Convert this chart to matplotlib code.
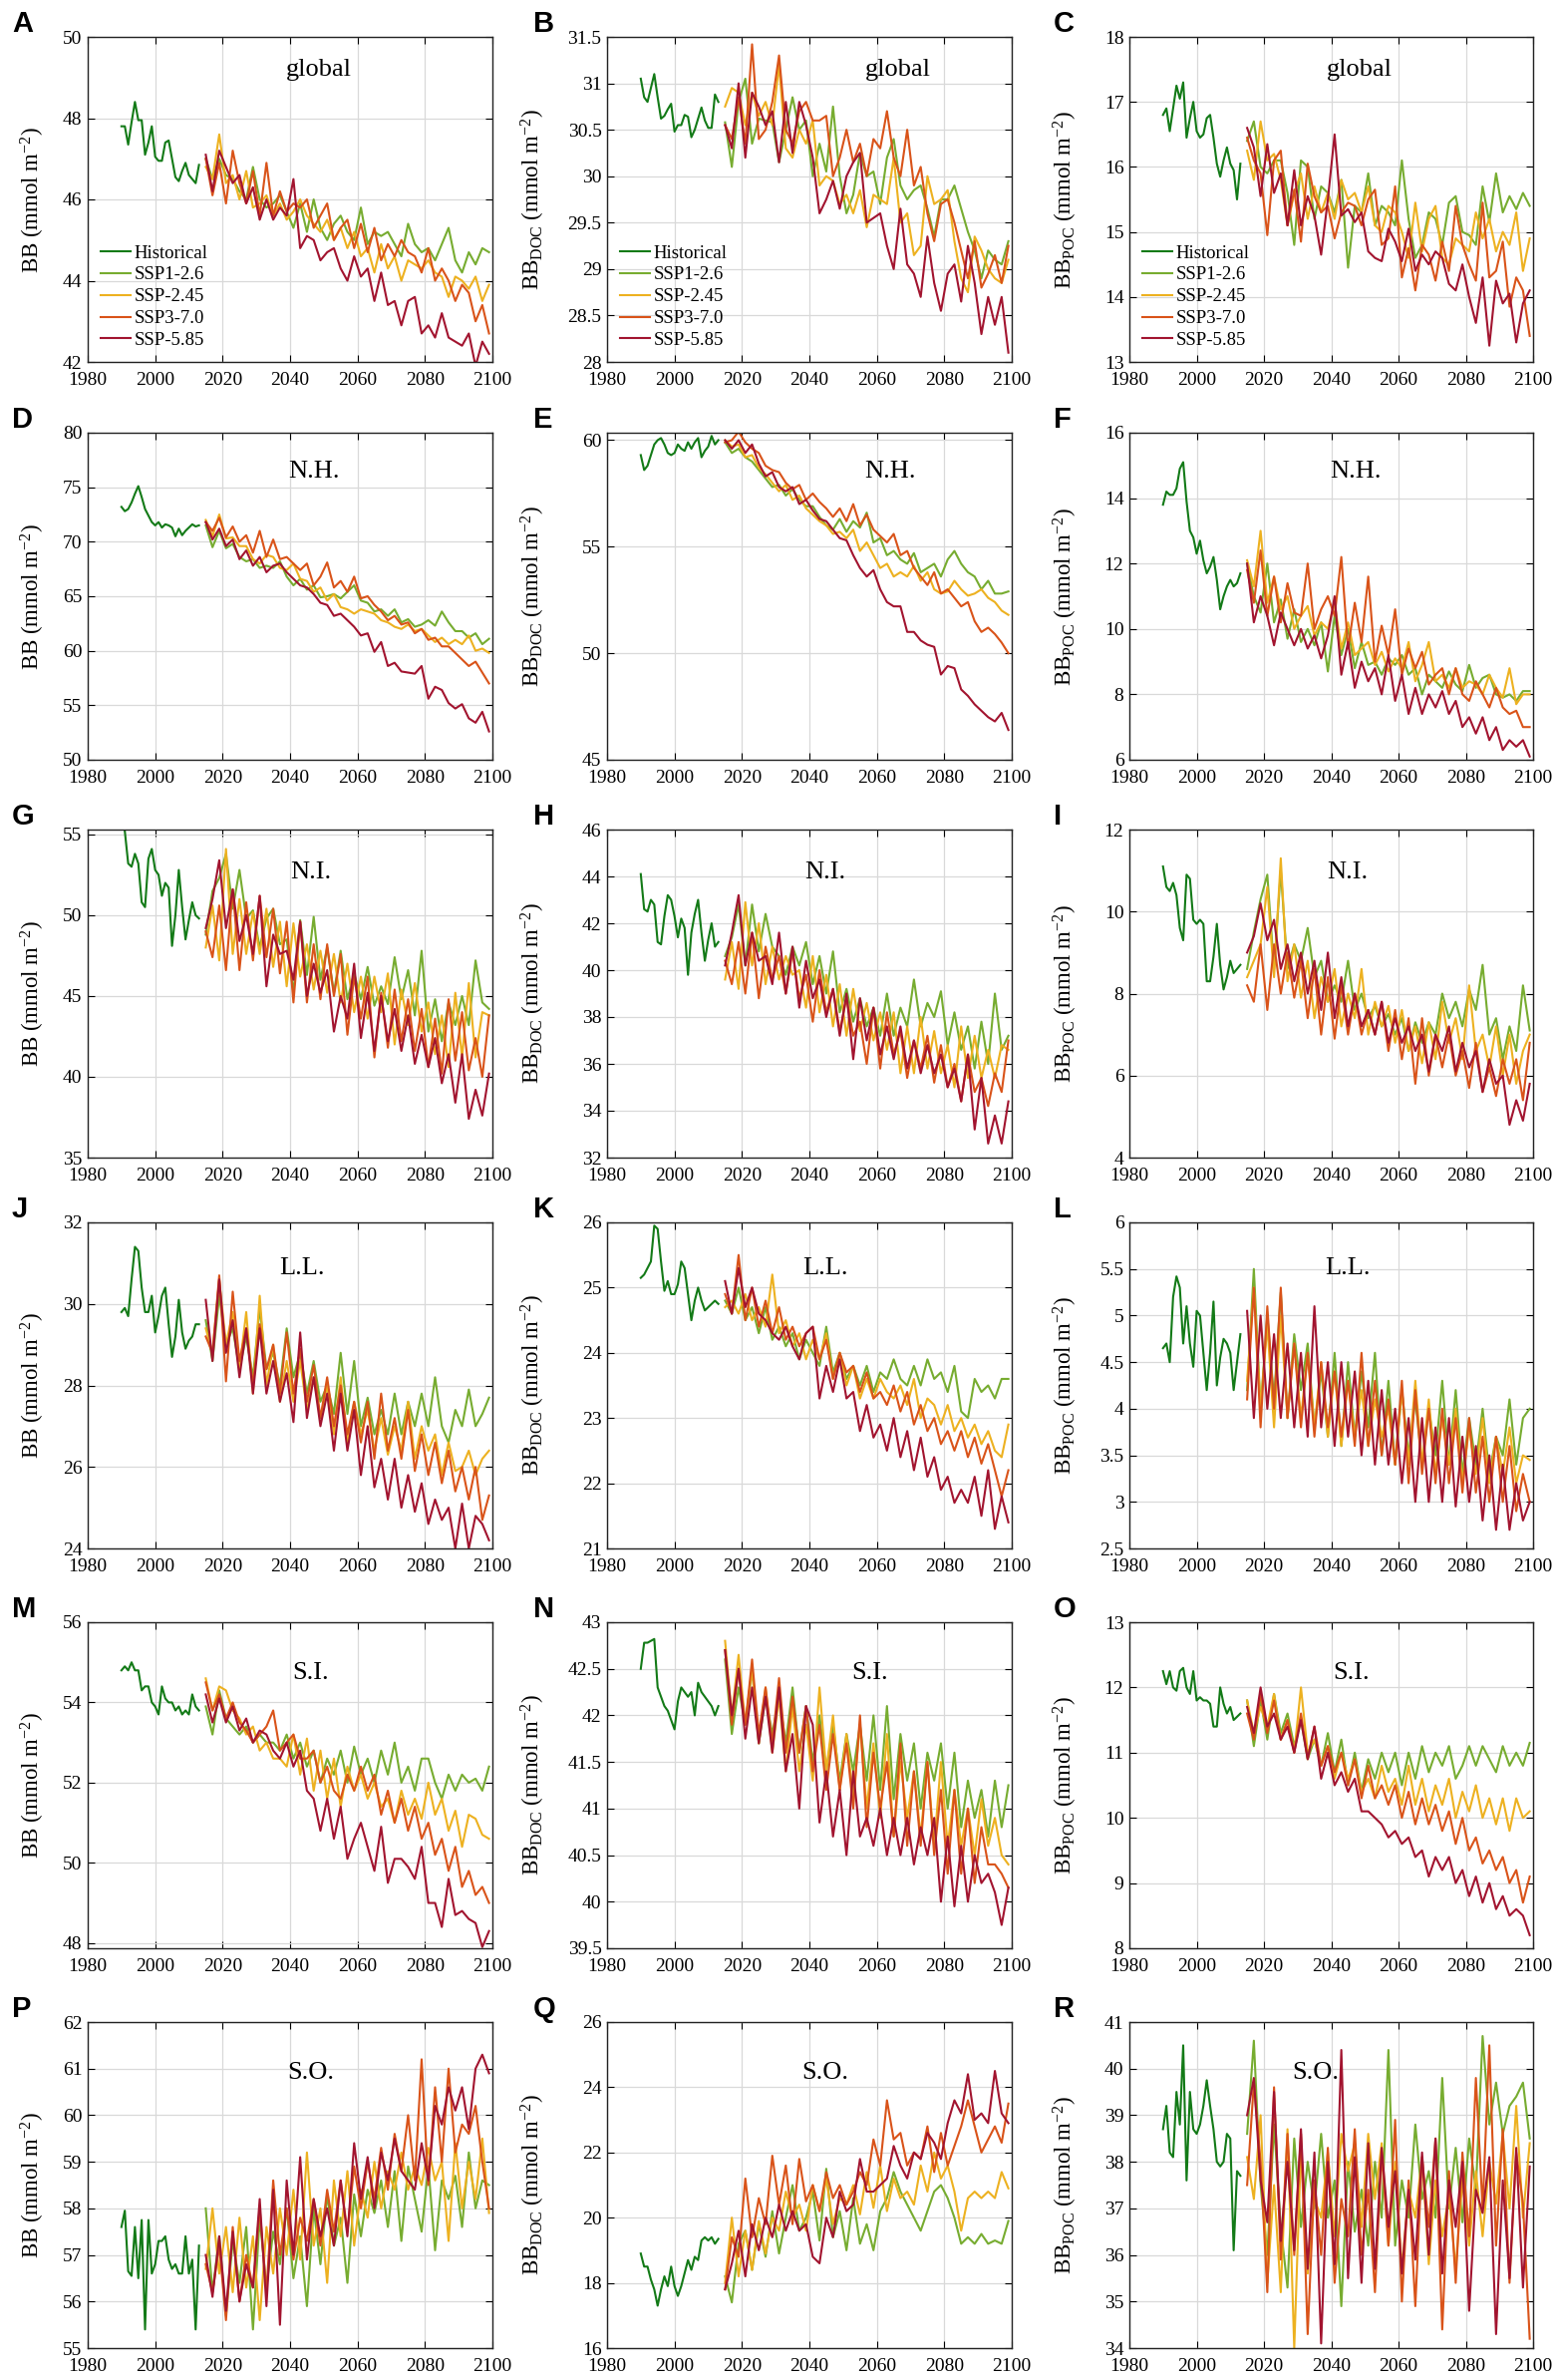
import matplotlib
matplotlib.use('Agg')
import matplotlib.pyplot as plt
import numpy as np
from matplotlib.ticker import FuncFormatter

plt.rcParams['font.family'] = ['Liberation Serif', 'DejaVu Serif']
plt.rcParams['mathtext.fontset'] = 'custom'
plt.rcParams['mathtext.rm'] = 'Liberation Serif'
plt.rcParams['mathtext.it'] = 'Liberation Serif:italic'

# ---------------- data ----------------
series_names = ['Historical', 'SSP1-2.6', 'SSP-2.45', 'SSP3-7.0', 'SSP-5.85']
series_colors = ['#137a17', '#77ac30', '#edb120', '#d95319', '#a2142f']
hist_start, hist_end = 1990, 2013
ssp_start, ssp_end = 2015, 2099
xticks = [1980, 2000, 2020, 2040, 2060, 2080, 2100]
panel_letters = list('ABCDEFGHIJKLMNOPQR')
regions = ['global', 'N.H.', 'N.I.', 'L.L.', 'S.I.', 'S.O.']

# A: BB global
A_hist = [47.8,47.8,47.35,47.9,48.4,47.95,47.95,47.1,47.4,47.8,47.05,46.95,46.95,47.4,47.45,47.0,46.55,46.45,46.7,46.9,46.6,46.5,46.4,46.85]
A_126 = [47.0,46.5,47.0,46.6,46.5,46.2,46.0,46.8,46.0,45.8,45.9,46.1,45.7,45.3,45.9,45.2,46.0,45.3,45.0,45.4,45.6,45.2,45.0,45.8,44.9,45.2,45.1,45.2,44.9,44.6,45.4,44.9,44.7,44.8,44.5,44.9,45.3,44.5,44.2,44.7,44.4,44.8,44.7]
A_245 = [46.8,46.5,47.6,46.4,46.6,46.0,46.7,45.8,45.9,46.1,45.6,45.9,45.5,45.7,46.0,45.6,45.4,45.2,45.5,45.0,45.3,44.8,45.2,44.6,44.8,44.2,44.9,44.3,44.6,44.0,44.5,44.4,44.3,44.5,44.2,44.1,43.6,44.1,44.0,43.8,44.1,43.5,43.9]
A_370 = [47.0,46.1,46.9,45.9,47.2,46.4,45.9,46.7,45.6,46.9,45.6,46.2,45.7,45.9,45.8,46.0,45.3,45.6,45.9,45.0,45.3,45.5,44.8,45.4,44.7,45.3,44.5,44.9,44.6,45.0,44.7,44.6,44.2,44.8,44.0,44.3,44.0,43.5,43.9,43.7,43.0,43.4,42.7]
A_585 = [47.1,46.2,47.2,46.8,46.4,46.6,45.9,46.3,45.5,46.0,45.5,45.8,45.6,46.5,44.8,45.1,45.0,44.5,44.7,44.8,44.3,44.0,44.6,44.1,44.3,43.5,44.2,43.4,43.5,42.9,43.5,43.6,42.7,42.9,42.6,43.2,42.6,42.5,42.4,42.7,41.9,42.5,42.2]

# B: BB_DOC global
B_hist = [31.05,30.85,30.8,30.95,31.1,30.85,30.62,30.65,30.72,30.78,30.48,30.55,30.55,30.66,30.64,30.42,30.5,30.62,30.74,30.6,30.52,30.52,30.88,30.8]
B_126 = [30.58,30.1,30.8,31.05,30.35,30.62,30.6,30.58,30.15,30.5,30.85,30.5,30.6,30.0,30.35,30.05,30.75,30.0,29.6,29.8,30.25,30.0,30.05,29.7,30.2,30.4,29.9,29.75,29.85,29.9,29.65,29.35,29.75,29.75,29.9,29.65,29.4,29.2,28.9,29.2,29.1,29.05,29.3]
B_245 = [30.75,30.95,30.9,30.55,30.9,30.65,30.8,30.55,31.2,30.3,30.2,30.5,30.35,30.6,29.9,30.0,29.95,29.7,29.8,29.6,29.85,29.45,29.8,29.75,29.7,30.2,29.5,29.6,29.15,29.25,30.0,29.7,29.75,29.85,29.3,28.9,28.75,29.35,29.2,29.0,28.9,28.85,29.1]
B_370 = [30.55,30.4,30.85,30.35,31.42,30.4,30.5,30.8,31.3,30.5,30.35,30.7,30.8,30.6,30.6,30.65,30.0,30.2,30.5,30.15,30.35,30.0,30.4,30.3,30.7,30.2,30.0,30.5,29.9,30.1,29.6,29.3,29.7,29.75,29.5,29.2,28.9,29.3,28.8,28.95,29.15,28.85,29.25]
B_585 = [30.55,30.3,31.0,30.2,30.9,30.75,30.55,30.7,30.15,30.8,30.25,30.8,30.55,30.2,29.6,29.75,29.95,29.65,30.0,30.15,30.25,29.5,29.55,29.6,29.25,29.0,29.65,29.05,28.95,28.7,29.35,28.85,28.55,28.95,29.05,28.65,29.25,28.85,28.3,28.7,28.4,28.7,28.1]

# C: BB_POC global
C_hist = [16.8,16.9,16.55,16.9,17.25,17.05,17.3,16.45,16.75,17.0,16.55,16.45,16.5,16.75,16.8,16.45,16.05,15.85,16.1,16.3,16.05,15.95,15.5,16.05]
C_126 = [16.4,16.7,16.0,15.9,16.1,16.1,15.6,14.8,16.1,16.0,15.2,15.7,15.6,15.3,15.8,14.45,15.4,15.3,15.9,15.1,15.4,15.3,15.1,16.1,15.2,14.6,14.8,15.3,15.2,14.8,15.45,15.55,15.0,14.95,14.8,15.7,15.15,15.9,15.3,15.55,15.35,15.6,15.4]
C_245 = [16.25,15.8,16.7,16.1,16.2,15.8,15.1,15.6,15.9,15.2,15.7,15.3,15.6,15.2,15.8,15.5,15.6,15.3,15.7,15.1,15.0,15.4,15.3,15.0,14.6,15.45,14.7,15.2,15.4,14.6,14.5,14.9,14.8,14.7,15.3,14.9,15.2,14.7,15.0,14.8,15.3,14.4,14.9]
C_370 = [16.45,16.1,15.9,14.95,16.1,16.25,15.1,15.65,14.85,16.05,15.55,15.3,15.4,14.9,15.3,15.45,15.4,15.1,15.5,15.65,14.8,14.9,15.7,14.3,14.75,14.1,14.8,14.65,14.25,14.85,14.4,15.4,14.8,14.5,14.25,15.45,14.3,14.4,14.85,13.85,14.3,14.1,13.4]
C_585 = [16.6,16.3,15.55,16.35,15.6,15.9,15.1,15.95,15.1,15.55,15.25,14.65,15.5,16.5,15.25,15.35,15.15,15.3,14.7,14.6,14.55,15.05,14.85,14.55,15.05,14.4,14.65,14.5,14.7,14.6,14.2,14.1,14.5,14.0,13.6,14.3,13.25,14.25,13.9,14.05,13.3,13.9,14.1]

# D: BB N.H.
D_hist = [73.2,72.8,73.0,73.6,74.4,75.1,74.1,73.0,72.4,71.8,71.5,71.8,71.3,71.6,71.5,71.3,70.5,71.2,70.6,71.0,71.3,71.6,71.4,71.5]
D_126 = [71.5,69.5,71.0,69.4,69.8,68.6,68.2,68.4,67.6,67.8,67.6,68.2,66.8,66.0,66.6,65.6,66.0,64.9,65.0,65.2,64.8,65.4,66.0,64.6,64.4,63.6,63.8,63.2,63.8,62.6,62.9,62.2,62.4,62.8,62.3,63.6,62.6,61.8,61.8,61.2,61.6,60.6,61.1]
D_245 = [72.0,70.5,72.5,70.3,70.4,69.6,69.6,68.4,68.0,68.8,68.6,67.6,67.4,68.0,66.6,66.4,65.4,65.8,64.6,65.2,64.0,63.8,63.4,63.8,63.6,63.4,62.8,62.6,62.2,62.0,62.4,61.8,62.0,61.4,60.8,61.2,60.6,61.0,60.6,61.4,60.0,60.2,59.8]
D_370 = [71.8,71.0,72.2,70.4,71.4,70.0,70.6,69.0,71.0,68.6,70.2,68.4,68.6,68.0,67.4,68.0,66.0,66.8,68.1,65.8,66.4,65.4,66.8,64.8,65.0,64.2,63.6,62.8,63.2,62.4,62.6,61.6,62.0,61.0,61.2,60.4,60.4,59.8,59.2,58.6,59.0,58.0,57.0]
D_585 = [71.8,70.2,71.2,69.6,70.2,68.4,69.2,67.8,68.6,67.2,67.8,68.0,67.2,66.6,66.0,65.8,65.2,64.4,64.2,63.2,63.4,62.8,62.2,61.4,61.6,59.9,60.8,58.6,58.9,58.1,58.0,57.9,58.6,55.6,56.7,56.4,55.2,54.7,55.1,53.8,53.4,54.4,52.6]

# E: BB_DOC N.H.
E_hist = [59.3,58.6,58.8,59.3,59.8,60.0,60.1,59.8,59.4,59.3,59.4,59.8,59.6,59.5,59.9,59.6,59.9,60.1,59.2,59.5,59.7,60.2,59.8,60.0]
E_126 = [59.9,59.4,59.6,59.2,59.0,58.6,58.2,57.8,57.9,57.4,57.7,57.2,56.9,56.9,56.4,56.0,55.8,56.3,55.7,56.2,55.9,56.6,55.2,55.4,54.6,54.8,54.4,54.2,54.7,53.8,54.0,54.2,53.6,54.4,54.8,54.2,53.8,53.6,53.0,53.4,52.8,52.8,52.9]
E_245 = [60.0,59.7,59.8,59.2,59.3,58.7,58.4,58.0,57.6,57.9,57.2,57.4,56.8,56.5,56.2,56.0,55.6,55.7,55.4,55.8,54.8,55.2,54.6,54.0,54.2,53.6,53.8,53.6,54.1,53.4,53.8,53.0,52.8,52.9,53.4,53.0,52.7,52.8,53.0,52.6,52.4,52.0,51.8]
E_370 = [59.9,60.0,60.4,59.9,59.6,59.4,58.8,58.6,58.5,58.0,57.7,57.9,57.2,57.5,57.1,56.8,56.4,56.8,56.2,57.0,56.0,56.5,55.8,55.5,55.2,55.6,54.6,54.8,54.0,53.6,53.2,53.8,52.8,53.0,52.6,52.2,52.4,51.5,51.0,51.2,50.9,50.5,50.0]
E_585 = [60.0,59.6,60.0,59.4,59.8,58.9,58.3,58.5,57.8,57.6,57.8,57.0,57.2,56.7,56.3,56.2,55.8,55.4,55.3,54.6,54.0,53.6,53.9,53.0,52.4,52.2,52.2,51.0,51.0,50.6,50.4,50.3,49.0,49.4,49.3,48.3,48.0,47.6,47.3,47.0,46.8,47.2,46.4]

# F: BB_POC N.H.
F_hist = [13.8,14.2,14.1,14.1,14.3,14.9,15.1,13.9,13.0,12.8,12.3,12.7,12.1,11.7,11.9,12.2,11.5,10.6,11.0,11.3,11.5,11.3,11.4,11.7]
F_126 = [12.0,11.0,10.5,12.0,10.2,10.9,9.7,10.6,9.6,10.0,9.5,10.2,8.7,10.4,9.2,10.0,8.8,9.6,8.9,9.0,8.6,9.1,8.9,9.2,8.6,8.8,8.0,8.6,8.4,8.2,8.7,8.3,8.1,8.9,8.2,8.5,8.6,8.0,7.9,8.0,7.8,8.1,8.1]
F_245 = [12.1,11.3,13.0,10.8,11.6,10.6,11.0,10.0,10.4,10.7,9.8,10.2,10.0,10.8,9.4,10.2,9.2,9.4,9.6,8.9,9.3,8.7,9.1,8.8,9.6,8.4,8.9,9.6,8.4,8.6,8.2,8.8,8.2,8.4,8.3,8.0,8.6,8.2,7.9,8.8,7.7,8.0,8.0]
F_370 = [11.8,10.8,12.4,10.4,11.6,10.2,11.4,10.5,10.4,12.0,10.0,10.6,11.0,10.4,12.2,9.4,10.8,9.6,11.6,9.0,10.1,9.2,10.6,8.6,9.4,8.8,9.3,8.3,8.6,8.8,8.0,8.8,8.0,7.8,8.4,8.0,7.6,8.2,7.6,7.4,7.5,7.0,7.0]
F_585 = [12.0,10.2,11.0,10.4,9.5,10.5,10.0,9.5,10.0,9.4,9.8,9.1,9.8,11.0,8.6,9.6,8.2,9.0,8.4,8.8,8.0,9.2,7.8,8.6,7.4,8.2,7.4,8.0,7.6,8.1,7.4,7.8,7.0,7.3,6.8,7.3,6.6,7.0,6.3,6.6,6.4,6.6,6.1]

# G: BB N.I.
G_hist = [56.0,55.2,53.2,53.0,53.8,53.2,50.8,50.5,53.5,54.1,52.8,52.5,51.2,52.0,51.7,48.1,50.0,52.8,50.5,48.5,49.7,50.8,50.0,49.8]
G_126 = [48.8,51.5,52.3,53.8,50.4,52.8,49.8,50.3,48.0,49.8,50.4,48.2,48.5,45.2,49.7,46.3,49.9,46.0,48.0,45.2,47.8,44.8,46.4,44.8,46.8,44.4,45.6,44.5,47.4,44.8,46.6,43.8,47.8,42.8,44.8,42.2,44.6,43.2,45.0,43.2,47.2,44.6,44.2]
G_245 = [48.0,50.6,47.2,54.1,47.6,51.0,47.6,50.2,47.6,50.4,46.8,49.6,45.6,49.5,46.2,48.2,45.4,47.8,45.2,47.6,44.6,47.0,44.0,46.2,43.6,46.2,44.0,46.4,42.0,45.4,43.2,45.8,42.8,44.6,41.4,43.8,40.6,45.2,41.2,45.8,41.2,44.0,43.8]
G_370 = [49.0,47.4,50.6,46.6,51.6,46.6,50.8,47.2,51.2,47.4,50.4,46.4,49.6,44.6,49.6,44.6,48.2,44.8,48.2,45.0,47.6,42.6,46.2,43.6,46.2,41.2,45.2,41.8,45.4,42.2,44.8,41.6,44.2,40.6,43.6,40.2,44.8,41.0,44.0,40.4,42.4,40.0,43.8]
G_585 = [49.2,51.0,53.4,49.2,51.6,48.4,50.0,47.6,51.2,45.6,48.8,47.6,47.8,46.0,49.6,45.0,47.0,45.2,46.6,42.8,45.0,43.6,47.0,42.4,45.2,41.6,45.0,42.2,44.2,41.6,43.8,40.8,42.6,40.6,42.4,39.6,41.4,38.4,41.4,37.4,39.2,37.6,40.2]

# H: BB_DOC N.I.
H_hist = [44.1,42.6,42.5,43.0,42.8,41.2,41.1,42.3,43.2,43.0,42.3,41.4,42.2,41.8,39.8,41.6,42.4,43.0,41.6,40.4,41.3,42.0,41.0,41.2]
H_126 = [40.6,41.4,42.8,40.2,42.8,40.8,42.4,41.0,40.6,39.8,41.0,40.2,41.2,39.4,40.6,39.0,40.8,38.2,39.2,37.8,38.8,37.6,38.4,37.2,39.0,37.2,38.4,37.6,39.6,37.6,38.6,38.0,39.1,36.8,38.2,36.6,37.6,35.8,37.8,36.0,39.0,36.6,37.2]
H_245 = [39.6,41.2,39.2,42.9,40.2,42.0,39.4,41.0,39.6,40.6,39.8,40.0,38.4,40.6,38.2,39.8,37.6,39.4,37.2,39.2,37.4,38.6,37.0,38.2,36.6,38.2,35.6,37.6,35.6,38.0,35.8,37.4,35.6,36.8,35.0,37.6,35.4,37.2,35.4,36.6,35.4,36.8,36.6]
H_370 = [40.4,39.4,41.2,39.0,41.6,38.8,41.0,39.6,40.6,39.0,40.8,38.8,39.8,37.8,40.0,38.2,39.2,37.4,38.8,37.2,37.8,36.0,38.4,35.8,38.2,36.4,37.4,35.4,37.0,35.8,37.2,35.2,36.8,35.0,36.0,34.4,36.4,34.8,35.4,34.2,35.6,34.8,37.0]
H_585 = [40.2,41.6,43.2,40.2,41.6,40.4,40.6,39.4,41.6,39.0,41.0,38.4,40.4,38.8,39.6,38.0,39.2,37.2,39.0,36.2,38.8,37.0,38.4,36.4,37.6,36.2,37.6,35.8,37.0,35.6,36.8,35.6,36.4,35.0,35.8,34.4,36.4,33.2,35.4,32.6,33.8,32.6,34.4]

# I: BB_POC N.I.
I_hist = [11.1,10.6,10.5,10.7,10.4,9.6,9.3,10.9,10.8,9.8,9.7,9.8,9.7,8.3,8.3,8.9,9.7,8.7,8.1,8.4,8.8,8.5,8.6,8.7]
I_126 = [8.6,9.5,10.3,10.9,8.6,11.0,8.6,9.2,8.8,9.6,8.4,8.8,7.8,8.2,7.8,8.8,7.6,8.0,7.4,7.7,7.2,7.5,7.0,7.4,6.6,7.3,6.8,7.3,7.0,8.0,7.4,7.8,7.2,8.1,7.6,8.7,7.0,7.4,6.4,7.2,6.6,8.2,7.1]
I_245 = [8.4,8.8,9.2,10.6,8.4,11.3,8.3,9.2,7.9,8.8,7.4,8.4,7.8,8.6,7.2,8.0,7.4,8.6,7.0,7.8,7.2,7.7,6.8,7.6,6.6,7.2,6.3,7.3,6.4,7.8,6.8,7.4,6.4,8.2,6.6,7.0,6.2,7.2,6.0,7.0,5.8,6.6,7.0]
I_370 = [8.2,7.8,9.2,7.6,9.2,8.0,9.0,7.9,8.8,7.4,8.6,7.0,8.4,6.9,8.2,7.0,8.0,7.0,7.6,7.0,7.8,6.6,7.6,6.4,7.4,5.8,7.4,6.0,7.0,6.2,7.0,6.0,6.6,5.7,6.8,5.6,6.2,5.5,6.4,5.8,6.4,5.4,6.8]
I_585 = [9.0,9.4,10.2,9.3,9.8,8.6,9.2,8.3,9.0,8.0,8.8,7.6,9.0,7.4,8.4,7.2,8.0,7.2,7.6,7.0,7.8,6.8,7.4,6.8,7.2,6.6,7.0,6.1,7.0,6.6,7.2,6.1,6.8,6.2,6.6,5.6,6.4,5.8,6.0,4.8,5.4,4.9,5.8]

# J: BB L.L.
J_hist = [29.8,29.9,29.7,30.6,31.4,31.3,30.4,29.8,29.8,30.2,29.3,29.7,30.2,30.4,29.5,28.7,29.2,30.1,29.3,28.9,29.1,29.2,29.5,29.5]
J_126 = [29.6,28.6,30.2,29.0,29.4,28.4,29.2,28.2,29.9,28.4,28.8,28.0,29.4,28.2,28.8,27.8,28.6,27.6,28.0,27.3,28.8,27.3,28.6,27.0,27.7,26.8,27.4,26.8,27.8,26.8,27.6,27.0,27.8,27.0,28.2,27.0,26.6,27.4,27.0,27.9,27.0,27.3,27.7]
J_245 = [29.4,28.8,30.6,29.0,29.8,28.4,29.8,27.8,30.2,28.0,29.0,27.6,28.6,27.6,28.6,27.4,28.2,27.2,28.0,26.8,28.2,26.6,27.6,26.8,27.4,26.4,27.2,26.3,27.0,26.4,27.6,26.2,27.0,26.4,26.8,25.8,26.6,25.9,26.0,26.4,25.8,26.2,26.4]
J_370 = [29.2,28.8,30.7,28.1,30.3,28.6,29.4,28.0,29.5,28.4,29.0,27.8,29.3,27.8,28.9,27.6,28.5,27.2,28.2,27.0,28.0,26.8,27.6,26.6,27.6,26.2,27.8,26.4,27.2,26.2,27.4,25.9,26.8,25.8,26.6,25.6,26.4,25.4,26.0,25.2,26.0,24.7,25.3]
J_585 = [30.1,28.6,30.6,28.8,29.6,28.2,29.4,27.8,29.4,27.8,28.6,27.6,28.3,27.1,29.3,27.2,28.2,27.0,27.8,26.4,27.8,26.4,27.4,25.8,27.0,25.5,26.2,25.2,26.2,25.0,25.8,24.9,25.6,24.6,25.2,24.7,25.0,24.0,25.1,24.0,24.8,24.6,24.2]

# K: BB_DOC L.L.
K_hist = [25.15,25.2,25.3,25.4,25.95,25.9,25.4,24.95,25.1,24.9,24.9,25.05,25.4,25.3,24.9,24.5,24.8,25.0,24.8,24.65,24.7,24.75,24.8,24.75]
K_126 = [24.8,24.6,25.0,24.5,24.7,24.3,24.7,24.2,24.4,24.1,24.3,23.9,24.2,24.0,23.8,24.4,23.7,24.0,23.6,23.8,23.5,23.8,23.4,23.7,23.6,23.9,23.6,23.5,23.8,23.5,23.9,23.6,23.7,23.4,23.8,23.1,23.0,23.6,23.4,23.5,23.3,23.6,23.6]
K_245 = [24.7,24.8,24.6,24.9,24.5,24.7,24.4,25.2,24.3,24.5,24.1,24.3,23.9,24.2,23.9,24.3,23.6,24.0,23.5,23.8,23.3,23.6,23.3,23.6,23.4,23.3,23.5,23.2,23.6,23.0,23.3,23.2,22.9,23.2,22.8,23.0,22.7,22.9,22.6,22.8,22.5,22.4,22.9]
K_370 = [24.9,24.6,25.5,24.5,25.0,24.4,24.8,24.3,24.7,24.2,24.4,24.1,24.3,24.4,23.9,24.2,23.6,24.0,23.7,23.8,23.4,23.7,23.3,23.4,23.2,23.5,23.1,23.4,22.9,23.2,22.8,23.0,22.6,22.8,22.5,22.8,22.4,22.7,22.3,22.6,22.2,21.8,22.2]
K_585 = [25.1,24.6,25.3,24.7,25.0,24.6,24.5,24.3,24.2,24.4,24.1,23.9,24.3,24.4,23.3,23.8,23.4,23.9,23.3,23.4,22.8,23.2,22.7,22.9,22.5,23.0,22.4,22.8,22.2,22.7,22.1,22.4,21.9,22.1,21.7,21.9,21.7,22.1,21.5,22.2,21.3,21.8,21.4]

# L: BB_POC L.L.
L_hist = [4.65,4.7,4.5,5.2,5.42,5.3,4.7,5.1,4.7,4.45,5.05,5.0,4.6,4.2,4.6,5.15,4.25,4.55,4.75,4.7,4.6,4.2,4.5,4.8]
L_126 = [4.2,5.5,4.0,5.0,4.1,5.25,3.9,4.8,4.2,4.7,3.8,4.4,3.7,4.6,3.6,4.5,3.7,4.4,3.8,4.6,3.5,4.3,3.4,4.2,3.5,4.1,3.4,4.0,3.5,4.3,3.4,4.2,3.3,3.9,3.4,4.0,3.3,3.7,3.5,4.1,3.4,3.9,4.0]
L_245 = [4.3,5.3,4.0,4.9,3.8,5.0,3.9,4.7,3.9,4.6,3.8,4.5,3.7,4.4,3.6,4.3,3.7,4.2,3.6,4.1,3.7,4.0,3.4,4.2,3.4,4.3,3.4,4.1,3.3,3.9,3.4,4.0,3.2,3.8,3.3,3.9,3.2,3.7,3.3,3.8,3.2,3.5,3.45]
L_370 = [4.1,5.3,3.8,5.1,4.0,5.3,3.9,4.7,3.8,4.6,3.7,4.5,3.8,4.4,3.7,4.3,3.6,4.6,3.6,4.3,3.5,4.1,3.4,4.3,3.2,4.2,3.3,4.0,3.2,4.0,3.2,3.9,3.1,3.9,3.1,3.7,3.0,3.7,3.0,3.6,2.9,3.3,3.0]
L_585 = [5.05,3.9,5.0,4.0,4.8,3.9,4.7,3.8,4.6,3.7,5.1,3.8,4.5,3.6,4.5,3.7,4.4,3.5,4.3,3.4,4.2,3.4,4.0,3.2,3.9,3.0,3.9,3.0,3.8,3.0,3.9,2.95,3.7,3.0,3.6,2.8,3.5,2.7,3.4,2.7,3.2,2.8,3.0]

# M: BB S.I.
M_hist = [54.8,54.9,54.8,55.0,54.8,54.8,54.3,54.4,54.4,54.0,53.9,53.7,54.4,54.1,54.0,54.0,53.8,53.9,53.7,53.8,53.7,54.2,53.9,53.8]
M_126 = [53.9,53.2,54.3,53.6,53.4,53.2,53.4,53.0,53.2,53.0,53.0,52.8,53.2,52.6,53.0,52.4,52.8,52.0,52.6,52.2,52.8,52.0,52.9,52.2,52.6,52.0,52.8,52.2,53.0,52.0,52.4,51.8,52.6,52.6,52.0,51.6,52.2,51.8,52.2,52.0,52.1,51.8,52.4]
M_245 = [54.6,53.8,54.4,54.3,53.8,53.6,53.2,53.4,52.8,53.0,52.6,52.6,52.4,53.2,52.2,53.1,51.8,52.8,51.6,52.6,51.4,52.4,51.8,52.2,51.6,52.0,51.4,51.6,51.0,51.8,51.2,51.6,51.1,52.0,51.2,51.6,50.8,51.3,50.4,51.2,51.1,50.7,50.6]
M_370 = [54.5,53.8,54.2,53.6,54.0,53.5,53.3,53.0,53.2,53.4,53.8,52.8,53.0,53.2,52.6,52.6,52.8,52.0,52.4,51.8,51.6,52.2,51.8,52.4,51.8,52.2,51.2,51.8,51.0,51.6,50.8,51.4,50.6,51.0,50.2,50.6,49.8,50.4,49.4,49.8,49.2,49.4,49.0]
M_585 = [54.2,53.5,54.1,53.5,53.9,53.3,53.6,53.0,53.3,53.2,52.8,52.6,53.0,52.4,52.8,51.8,51.6,50.8,51.6,50.6,51.4,50.1,50.6,51.0,50.4,49.8,50.9,49.5,50.1,50.1,49.9,49.6,50.4,49.0,49.0,48.4,49.6,48.7,48.8,48.6,48.5,47.9,48.3]

# N: BB_DOC S.I.
N_hist = [42.5,42.78,42.78,42.8,42.82,42.3,42.2,42.1,42.05,41.95,41.85,42.15,42.3,42.25,42.2,42.25,42.0,42.35,42.25,42.2,42.15,42.1,42.0,42.1]
N_126 = [42.6,41.8,42.3,41.9,42.5,41.7,42.2,41.8,42.2,41.7,42.3,41.6,42.1,41.5,42.0,41.4,41.9,41.3,41.8,41.4,41.9,41.3,42.0,41.2,42.1,41.1,41.8,41.3,41.7,41.0,41.6,41.3,41.7,41.0,41.6,40.8,41.3,40.9,41.2,40.7,41.3,40.8,41.25]
N_245 = [42.8,42.0,42.65,41.9,42.5,41.7,42.3,41.6,42.2,41.4,42.1,41.4,41.9,41.3,42.3,41.4,42.0,41.2,41.8,41.1,41.9,41.0,41.7,40.9,41.8,40.7,41.5,40.9,41.4,40.7,41.5,40.6,41.5,40.6,41.2,40.6,41.0,40.5,41.1,40.6,40.9,40.5,40.4]
N_370 = [42.7,41.9,42.5,41.9,42.6,41.8,42.3,41.7,42.4,41.6,42.2,41.6,42.1,41.4,41.9,41.2,41.8,41.2,41.7,41.0,42.0,40.8,41.6,41.0,41.5,40.7,41.7,40.6,41.4,40.6,41.5,40.5,41.2,40.3,41.2,40.3,41.0,40.2,40.8,40.4,40.4,40.3,40.15]
N_585 = [42.7,42.0,42.5,41.75,42.3,41.7,42.2,41.6,42.3,41.4,41.8,41.0,42.1,41.9,40.85,41.4,40.7,41.2,40.5,41.4,40.7,40.9,40.6,41.0,40.5,40.9,40.5,40.9,40.4,40.8,40.5,40.9,40.0,40.7,39.95,40.6,40.0,40.5,40.2,40.3,40.1,39.75,40.15]

# O: BB_POC S.I.
O_hist = [12.25,12.05,12.25,12.0,11.95,12.25,12.3,12.0,11.9,12.25,11.8,11.85,11.8,11.8,11.75,11.4,11.4,12.0,11.75,11.6,11.7,11.5,11.55,11.6]
O_126 = [11.8,11.1,11.8,11.2,11.9,11.3,11.6,11.1,11.5,10.9,11.2,10.8,11.3,10.7,11.2,10.5,11.0,10.4,10.9,10.6,11.0,10.7,11.0,10.5,11.0,10.6,11.1,10.7,11.0,10.8,11.1,10.6,10.8,11.1,10.8,11.1,10.9,10.7,11.1,10.8,11.0,10.8,11.15]
O_245 = [11.8,11.3,11.7,11.4,11.9,11.2,11.5,11.0,12.0,11.0,11.2,10.8,11.1,10.6,11.0,10.6,10.9,10.4,10.6,10.3,10.8,10.4,10.6,10.2,10.8,10.2,10.6,10.1,10.5,10.2,10.6,10.0,10.4,10.1,10.5,10.0,10.3,9.9,10.3,9.8,10.3,10.0,10.1]
O_370 = [11.6,11.2,11.9,11.3,11.8,11.2,11.5,11.0,11.6,10.9,11.4,10.8,11.1,10.7,11.0,10.5,10.9,10.3,10.8,10.3,10.5,10.2,10.5,10.0,10.4,9.9,10.3,9.9,10.2,9.8,10.1,9.6,10.0,9.5,9.7,9.3,9.5,9.2,9.4,9.0,9.2,8.7,9.1]
O_585 = [11.7,11.3,12.0,11.4,11.6,11.2,11.4,11.0,11.5,10.9,11.4,10.6,11.0,10.5,10.7,10.4,10.6,10.1,10.1,10.0,9.9,9.7,9.8,9.6,9.7,9.4,9.5,9.1,9.4,9.2,9.4,9.0,9.2,8.8,9.1,8.7,9.0,8.6,8.8,8.5,8.6,8.5,8.2]

# P: BB S.O.
P_hist = [57.6,57.95,56.65,56.55,57.6,56.5,57.75,55.4,57.75,56.6,56.8,57.3,57.3,57.4,56.9,56.7,56.8,56.6,56.6,57.4,56.6,56.9,55.4,57.2]
P_126 = [58.0,56.2,57.4,55.7,57.3,56.4,57.6,55.4,57.8,56.3,57.5,56.8,58.0,56.5,57.4,55.9,58.0,56.8,58.3,57.2,57.8,56.4,58.3,57.4,58.4,57.9,58.6,57.6,58.8,57.3,58.9,58.2,57.5,58.9,57.1,58.6,58.2,58.7,57.6,59.2,58.0,58.6,58.5]
P_245 = [56.7,58.0,56.6,57.6,56.2,57.8,56.3,57.4,55.6,57.6,56.6,58.0,57.0,58.4,56.9,59.2,57.2,58.0,56.4,58.6,57.4,58.8,57.2,58.4,57.8,59.0,58.0,58.8,58.4,59.2,58.4,58.9,58.5,59.3,58.6,59.0,57.3,59.4,58.0,59.0,58.2,59.5,57.9]
P_370 = [56.8,56.2,57.2,55.6,57.6,56.0,57.0,56.3,58.0,56.2,58.6,57.0,58.0,56.9,57.8,57.3,58.2,57.2,58.4,57.5,58.6,57.5,58.9,58.0,59.0,58.2,59.3,58.4,59.6,58.8,60.0,58.6,61.2,58.5,60.6,59.0,61.0,59.2,59.8,59.6,60.2,59.0,58.0]
P_585 = [57.0,56.1,57.4,55.8,57.5,56.0,56.8,56.3,58.2,55.9,58.4,55.5,58.6,57.0,59.1,56.9,58.2,57.4,58.0,57.2,58.6,57.4,59.4,58.2,59.1,58.0,59.2,58.6,59.5,58.8,58.6,58.4,59.4,58.6,60.2,59.8,60.6,60.1,60.6,59.7,61.0,61.3,60.9]

# Q: BB_DOC S.O.
Q_hist = [18.9,18.5,18.5,18.1,17.8,17.3,17.8,18.2,17.9,18.5,17.9,17.6,17.9,18.3,18.7,18.4,18.8,18.7,19.3,19.4,19.3,19.4,19.2,19.35]
Q_126 = [18.2,17.4,19.2,19.6,18.4,19.8,18.8,20.2,18.9,20.0,21.0,19.6,20.0,20.8,19.3,21.5,19.4,20.2,19.0,20.6,19.2,19.8,19.0,20.2,20.6,21.4,20.8,20.4,20.0,19.6,20.2,20.8,21.0,20.6,20.0,19.2,19.4,19.2,19.5,19.2,19.3,19.2,19.9]
Q_245 = [18.0,20.0,18.2,19.6,18.4,19.9,18.9,20.0,19.6,20.8,20.0,20.4,19.6,21.0,20.2,21.2,19.8,20.6,20.4,21.0,20.1,21.4,20.3,21.6,20.2,21.2,20.6,20.8,20.4,21.6,20.8,22.0,21.2,21.6,20.8,19.6,20.6,20.8,20.6,20.8,20.6,21.4,20.9]
Q_370 = [17.8,19.4,18.8,21.2,19.4,20.6,19.8,21.9,20.4,21.6,19.8,21.8,20.5,21.0,20.2,21.4,20.6,21.0,20.4,20.8,21.4,21.0,22.4,21.6,23.6,22.4,22.6,21.6,22.0,21.8,22.8,21.4,22.6,21.6,22.2,22.8,23.6,22.8,22.0,22.4,22.8,22.3,23.5]
Q_585 = [17.8,18.6,19.6,18.2,19.8,19.0,20.0,19.4,20.4,19.6,20.2,19.6,19.8,18.8,18.6,20.0,19.4,20.8,20.2,20.4,21.8,20.8,20.8,21.0,21.2,22.2,21.6,21.2,22.0,21.8,22.6,22.3,21.8,22.9,23.6,23.2,24.4,23.0,23.2,22.9,24.5,23.2,22.9]

# R: BB_POC S.O.
R_hist = [38.7,39.2,38.2,38.1,39.5,38.8,40.5,37.6,39.5,38.7,38.6,38.8,39.2,39.75,39.2,38.7,38.0,37.9,38.0,38.6,38.5,36.1,37.8,37.7]
R_126 = [38.6,40.6,37.5,36.0,38.8,36.6,35.3,38.5,36.6,38.0,37.0,38.6,36.8,37.6,34.9,38.0,36.5,37.4,36.2,38.0,36.8,40.4,36.2,37.6,36.8,38.8,37.2,37.8,36.8,39.8,37.0,38.3,36.7,38.5,37.4,40.7,38.8,39.7,38.6,39.2,39.4,39.7,38.5]
R_245 = [38.1,37.2,39.0,35.4,37.5,35.2,38.7,34.0,38.3,35.6,37.2,36.8,38.2,36.4,38.6,37.8,38.4,36.6,38.6,37.2,38.4,36.2,38.0,35.7,37.4,36.8,38.1,35.8,37.6,36.4,37.3,35.7,37.6,36.2,37.8,36.4,38.0,37.1,38.6,37.0,39.2,36.8,38.4]
R_370 = [37.5,39.7,38.0,35.2,39.6,35.9,38.6,36.0,38.6,34.3,37.6,36.0,38.3,35.4,37.2,36.4,38.7,36.0,37.4,35.2,38.2,36.2,38.9,35.0,37.6,34.9,38.1,36.6,38.5,34.4,37.8,35.4,38.2,36.4,39.8,37.0,40.5,36.2,38.7,35.4,38.2,37.1,34.2]
R_585 = [39.0,39.8,37.6,36.7,39.5,36.3,38.0,36.1,38.7,35.7,38.2,34.1,38.0,35.8,40.4,35.5,38.1,35.4,38.4,35.7,38.3,36.6,37.8,35.6,37.4,35.9,38.2,36.0,38.5,35.6,37.6,36.6,38.0,34.8,37.4,36.9,38.1,34.3,37.6,35.5,38.3,35.3,37.9]

# y-axis ranges and tick steps per panel
ylims = [(42, 50), (28, 31.5), (13, 18),
         (50, 80), (45, 60.35), (6, 16),
         (35, 55.3), (32, 46), (4, 12),
         (24, 32), (21, 26), (2.5, 6),
         (47.87, 56), (39.5, 43), (8, 13),
         (55, 62), (16, 26), (34, 41)]
ytick_steps = [2, 0.5, 1, 5, 5, 2, 5, 2, 2, 2, 1, 0.5, 2, 0.5, 1, 1, 2, 1]

panel_data = [
    (A_hist, A_126, A_245, A_370, A_585), (B_hist, B_126, B_245, B_370, B_585), (C_hist, C_126, C_245, C_370, C_585),
    (D_hist, D_126, D_245, D_370, D_585), (E_hist, E_126, E_245, E_370, E_585), (F_hist, F_126, F_245, F_370, F_585),
    (G_hist, G_126, G_245, G_370, G_585), (H_hist, H_126, H_245, H_370, H_585), (I_hist, I_126, I_245, I_370, I_585),
    (J_hist, J_126, J_245, J_370, J_585), (K_hist, K_126, K_245, K_370, K_585), (L_hist, L_126, L_245, L_370, L_585),
    (M_hist, M_126, M_245, M_370, M_585), (N_hist, N_126, N_245, N_370, N_585), (O_hist, O_126, O_245, O_370, O_585),
    (P_hist, P_126, P_245, P_370, P_585), (Q_hist, Q_126, Q_245, Q_370, Q_585), (R_hist, R_126, R_245, R_370, R_585),
]

ylabels = [r'BB (mmol m$^{-2}$)', r'BB$_{\rm DOC}$ (mmol m$^{-2}$)', r'BB$_{\rm POC}$ (mmol m$^{-2}$)']

# ---------------- layout ----------------
W, H = 1562, 2387
fig = plt.figure(figsize=(W / 100, H / 100), dpi=100)
col_px = [(88, 494), (609, 1015), (1133, 1538)]
row_px = [(37, 363), (434, 762), (832, 1161), (1226, 1553), (1627, 1954), (2028, 2355)]
ylabel_x = [-0.10, -0.148, -0.123]
letter_x = [12, 535, 1057]
region_x = [[0.57, 0.72, 0.57], [0.56, 0.70, 0.56], [0.55, 0.54, 0.54],
            [0.53, 0.54, 0.54], [0.55, 0.65, 0.55], [0.55, 0.54, 0.46]]
region_y = [0.90, 0.88, 0.87, 0.86, 0.845, 0.845]

fmt = FuncFormatter(lambda v, _: '%g' % round(v, 3))

for r in range(6):
    for c in range(3):
        k = r * 3 + c
        x0, x1 = col_px[c]
        y0, y1 = row_px[r]
        ax = fig.add_axes([x0 / W, 1 - y1 / H, (x1 - x0) / W, (y1 - y0) / H])
        hist, s1, s2, s3, s4 = panel_data[k]
        xh = np.linspace(hist_start, hist_end, len(hist))
        ax.plot(xh, hist, color=series_colors[0], lw=1.5, label=series_names[0])
        for j, s in enumerate([s1, s2, s3, s4]):
            xs = np.linspace(ssp_start, ssp_end, len(s))
            ax.plot(xs, s, color=series_colors[j + 1], lw=1.5, label=series_names[j + 1])
        ax.set_xlim(1980, 2100)
        ax.set_xticks(xticks)
        lo, hi = ylims[k]
        ax.set_ylim(lo, hi)
        st = ytick_steps[k]
        t0 = np.ceil(lo / st - 1e-9) * st
        ax.set_yticks(np.arange(t0, hi + 1e-9, st))
        ax.yaxis.set_major_formatter(fmt)
        ax.grid(True, color='#d9d9d9', lw=0.9)
        ax.set_axisbelow(True)
        ax.tick_params(direction='in', top=True, right=True, length=5, width=0.8,
                       labelsize=14)
        ax.tick_params(axis='x', pad=7)
        ax.tick_params(axis='y', pad=4)
        for sp in ax.spines.values():
            sp.set_linewidth(1.0)
            sp.set_color('#222222')
        ax.set_ylabel(ylabels[c], fontsize=16.5)
        ax.yaxis.set_label_coords(ylabel_x[c], 0.5)
        ax.text(region_x[r][c], region_y[r], regions[r], transform=ax.transAxes,
                ha='center', va='center', fontsize=19)
        fig.text(letter_x[c] / W, 1 - (y0 + 1) / H, panel_letters[k], fontsize=21,
                 fontweight='bold', family='Liberation Sans', ha='left', va='bottom')
        if r == 0:
            ax.legend(loc='lower left', bbox_to_anchor=(0.0, 0.0), frameon=False,
                      fontsize=13.5, handlelength=1.6, handletextpad=0.2,
                      labelspacing=0.25, borderaxespad=0.3)

fig.savefig('out.png', dpi=100)
